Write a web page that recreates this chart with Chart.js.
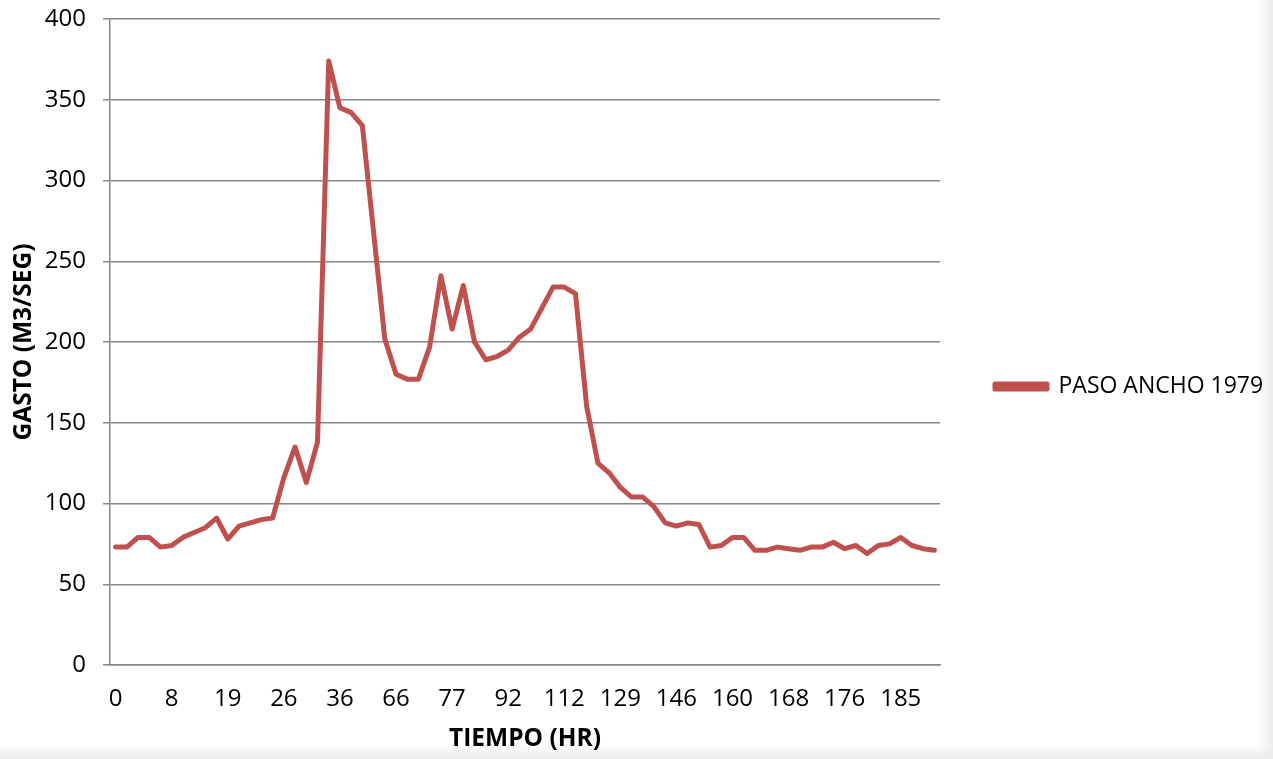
<!DOCTYPE html>
<html>
<head>
<meta charset="utf-8">
<title>Paso Ancho 1979</title>
<script src="https://cdn.jsdelivr.net/npm/chart.js@4/dist/chart.umd.min.js"></script>
<style>
    html, body {
        margin: 0;
        padding: 0;
        background: #fff;
    }
    #wrap {
        position: relative;
        width: 1273px;
        height: 759px;
        background:
            linear-gradient(to right, rgba(255,255,255,0) 1258px, #ececec 1273px),
            linear-gradient(to bottom, rgba(255,255,255,0) 744px, #ececec 759px),
            #fff;
    }
</style>
</head>
<body>
<div id="wrap"><canvas id="chart"></canvas></div>
<script>
// hour labels shown under every 5th reading
const hourTicks = [0, 8, 19, 26, 36, 66, 77, 92, 112, 129, 146, 160, 168, 176, 185];

// GASTO (m3/seg), one value per reading
const flow = [
    73, 73, 79, 79, 73, 74, 79, 82, 85, 91,
    78, 86, 88, 90, 91, 116, 135, 113, 138, 374,
    345, 342, 334, 268, 202, 180, 177, 177, 197, 241,
    208, 235, 200, 189, 191, 195, 203, 208, 221, 234,
    234, 230, 160, 125, 119, 110, 104, 104, 98, 88,
    86, 88, 87, 73, 74, 79, 79, 71, 71, 73,
    72, 71, 73, 73, 76, 72, 74, 69, 74, 75,
    79, 74, 72, 71
];

const seriesName = 'PASO ANCHO 1979';
const yTicks = { min: 0, max: 400, step: 50 };

const categories = flow.map((_, i) => (i % 5 === 0 ? String(hourTicks[i / 5]) : ''));

const gridGray = '#868686';
const font = 'Open Sans';
// the legend is capped at a quarter of the width, so pull the left edge out
// to give it room (the y axis widens by the same amount)
const shiftLeft = 59;

new Chart(document.getElementById('chart'), {
    type: 'line',
    data: {
        labels: categories,
        datasets: [{
            label: seriesName,
            data: flow,
            borderColor: '#c0504d',
            backgroundColor: '#c0504d',
            borderWidth: 5,
            borderJoinStyle: 'round',
            borderCapStyle: 'round',
            pointRadius: 0,
            tension: 0
        }]
    },
    options: {
        responsive: true,
        maintainAspectRatio: false,
        animation: false,
        layout: {
            padding: { top: 19, right: 0, bottom: 5, left: -shiftLeft }
        },
        plugins: {
            tooltip: { enabled: false },
            legend: {
                position: 'right',
                labels: {
                    boxWidth: 52,
                    boxHeight: 5,
                    padding: 55,
                    color: '#000',
                    font: { family: font, size: 23 }
                }
            }
        },
        scales: {
            x: {
                offset: true,
                grid: { display: false, drawTicks: false },
                border: { display: true, color: gridGray, width: 1.5 },
                ticks: {
                    autoSkip: false,
                    maxRotation: 0,
                    padding: 20,
                    color: '#000',
                    font: { family: font, size: 24 }
                },
                title: {
                    display: true,
                    text: 'TIEMPO (HR)',
                    color: '#000',
                    padding: { top: 12, bottom: 0 },
                    font: { family: font, size: 24.5, weight: 'bold' }
                },
                afterFit(scale) {
                    scale.height = 89;
                }
            },
            y: {
                min: yTicks.min,
                max: yTicks.max,
                grid: {
                    color: gridGray,
                    lineWidth: 1.5,
                    tickLength: 7
                },
                border: { display: true, color: gridGray, width: 1.5 },
                ticks: {
                    stepSize: yTicks.step,
                    padding: 17,
                    color: '#000',
                    font: { family: font, size: 24 }
                },
                title: {
                    display: true,
                    text: 'GASTO (M3/SEG)',
                    color: '#000',
                    padding: { top: 9 + shiftLeft, bottom: 0 },
                    font: { family: font, size: 24.5, weight: 'bold' }
                },
                afterFit(scale) {
                    scale.width = 110 + shiftLeft;
                    scale.paddingTop = 0;
                    scale.paddingBottom = 0;
                }
            }
        }
    }
});
</script>
</body>
</html>
